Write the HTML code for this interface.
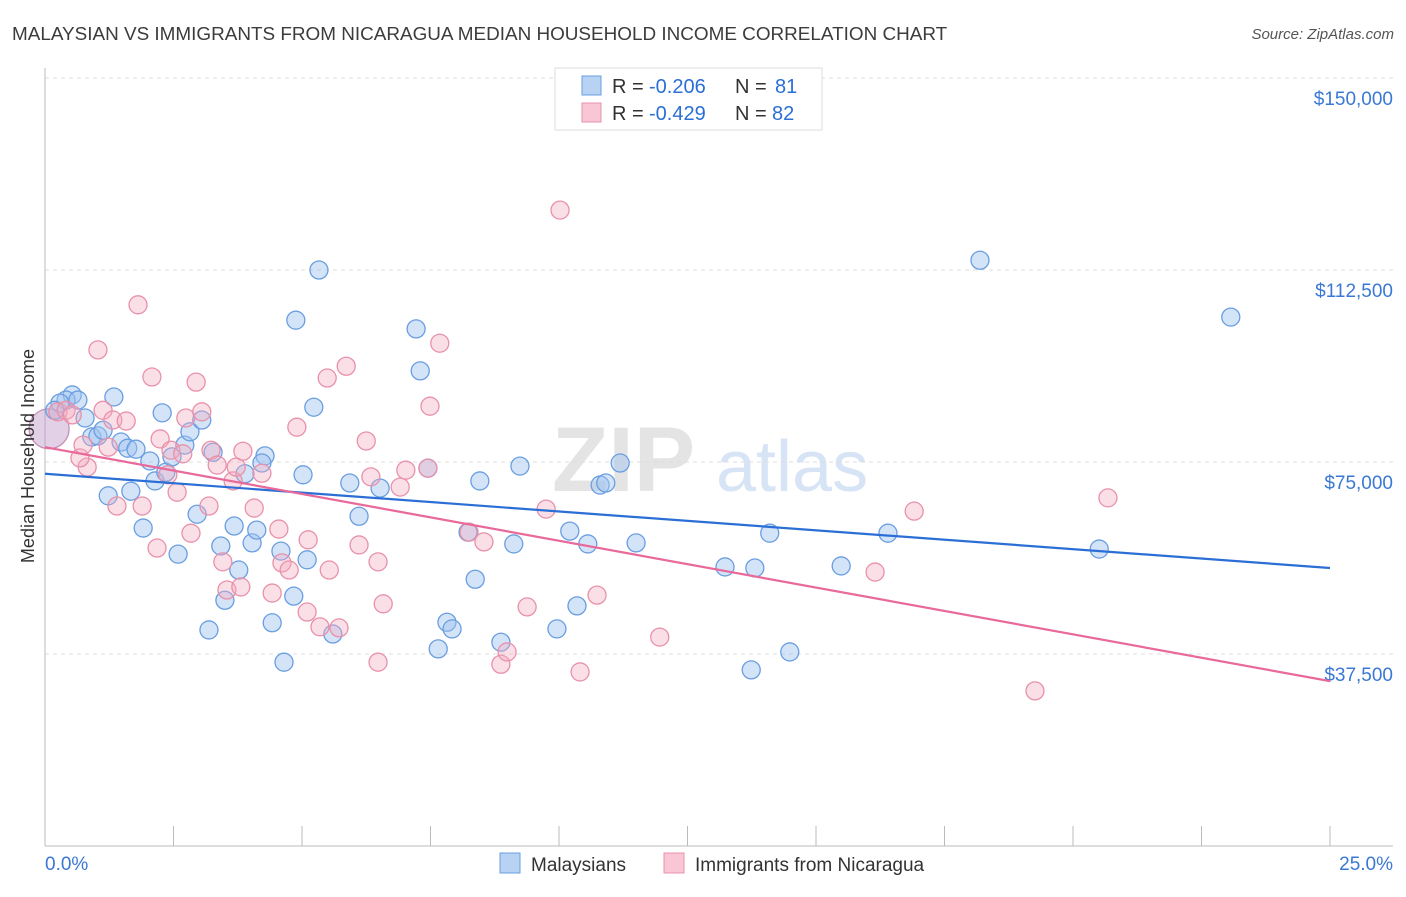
<!DOCTYPE html>
<html><head><meta charset="utf-8"><style>
body{margin:0;background:#fff;font-family:"Liberation Sans",sans-serif}
svg text{font-family:"Liberation Sans",sans-serif}
</style></head><body>
<svg id="chart" width="1406" height="892" viewBox="0 0 1406 892" xmlns="http://www.w3.org/2000/svg">
<text x="12" y="40" font-size="18.9" fill="#3c3c3c">MALAYSIAN VS IMMIGRANTS FROM NICARAGUA MEDIAN HOUSEHOLD INCOME CORRELATION CHART</text>
<text x="1394" y="39" font-size="15" fill="#555" text-anchor="end" font-style="italic">Source: ZipAtlas.com</text>
<g>
<text x="552" y="491" font-size="92" fill="#e4e4e4" font-family="Liberation Serif" font-weight="bold">ZIP</text>
<text x="716" y="491" font-size="72" fill="#d6e4f5">atlas</text>
</g>
<g id="grid"></g>
<g id="axes"></g>
<g id="pts"></g>
<g id="lines"></g>
<text transform="translate(34,456) rotate(-90)" font-size="18" fill="#333" text-anchor="middle">Median Household Income</text>
<g>
<rect x="555" y="68" width="267" height="62" fill="#fff" stroke="#ddd"/>
<rect x="582" y="76" width="19" height="19" fill="#b8d2f4" stroke="#6a9ee0"/>
<rect x="582" y="103" width="19" height="19" fill="#f9c6d5" stroke="#e891aa"/>
<text x="612" y="93" font-size="20" fill="#333">R =</text>
<text x="649" y="93" font-size="20" fill="#2b6fd6">-0.206</text>
<text x="735" y="93" font-size="20" fill="#333">N =</text>
<text x="775" y="93" font-size="20" fill="#2b6fd6">81</text>
<text x="612" y="120" font-size="20" fill="#333">R =</text>
<text x="649" y="120" font-size="20" fill="#2b6fd6">-0.429</text>
<text x="735" y="120" font-size="20" fill="#333">N =</text>
<text x="772" y="120" font-size="20" fill="#2b6fd6">82</text>
</g>
<g>
<rect x="500" y="853" width="20" height="20" fill="#b8d2f4" stroke="#6a9ee0"/>
<text x="531" y="871" font-size="19" fill="#333">Malaysians</text>
<rect x="664" y="853" width="20" height="20" fill="#f9c6d5" stroke="#e891aa"/>
<text x="695" y="871" font-size="19" fill="#333">Immigrants from Nicaragua</text>
</g>
</svg>
<script>
const yTicks=[37500,75000,112500,150000];
const yTickLabels=["$37,500","$75,000","$112,500","$150,000"];
const xEndLabels=["0.0%","25.0%"];
const blueX=[0.53,0.41,0.29,0.64,1.34,0.78,0.19,0.91,1.03,1.13,1.48,1.61,1.77,2.04,1.23,1.67,1.91,2.14,2.35,2.28,2.47,2.72,2.82,3.05,3.27,2.96,2.59,3.42,3.68,3.77,3.50,3.19,3.89,4.03,4.12,4.28,4.22,4.59,4.42,4.65,4.84,4.88,5.33,5.23,5.02,5.10,5.60,5.93,6.11,6.52,7.22,7.30,7.45,7.82,7.92,7.65,8.23,8.37,8.46,8.87,9.12,9.24,9.96,10.21,10.35,10.56,10.80,10.91,11.19,11.50,13.23,13.74,13.81,14.10,14.49,15.49,16.40,18.19,20.51,23.07];
const blueY=[88.1,87.1,86.5,87.1,87.7,83.6,85.1,79.9,80.1,81.2,78.9,77.7,77.5,75.2,68.4,69.3,62.1,71.3,73.0,84.6,76.0,78.3,80.9,83.2,76.9,64.8,57.0,58.6,62.5,53.9,48.0,42.2,72.7,59.2,61.7,76.2,74.8,57.6,43.6,35.9,48.8,102.7,112.5,85.7,72.5,55.9,41.4,70.9,64.4,69.9,101.0,92.8,73.8,43.7,42.4,38.5,61.3,52.1,71.3,39.8,59.0,74.2,42.4,61.5,46.9,59.0,70.5,70.9,74.8,59.2,54.5,34.4,54.3,61.1,37.9,54.7,61.1,114.4,58.0,103.3];
const pinkX=[0.25,0.41,0.53,0.82,0.68,0.74,1.03,1.13,1.23,1.40,1.32,1.58,1.81,1.89,2.08,2.18,2.24,2.39,2.45,2.57,2.68,2.74,2.84,2.94,3.05,3.19,3.23,3.35,3.46,3.54,3.66,3.72,3.85,3.81,4.07,4.22,4.42,4.55,4.61,4.75,4.90,5.10,5.12,5.35,5.53,5.72,5.49,5.86,6.11,6.25,6.34,6.48,6.48,6.58,6.91,7.02,7.45,7.49,7.68,8.25,8.54,8.87,8.99,9.38,9.75,10.02,10.41,10.74,11.96,16.15,16.91,19.26,20.68];
const pinkY=[84.8,85.1,84.2,74.0,75.8,78.3,96.9,85.1,77.9,66.4,83.2,83.0,105.7,66.4,91.6,58.2,79.5,72.5,77.3,69.1,76.6,83.6,61.1,90.6,84.8,66.4,77.3,74.4,55.5,50.0,71.3,74.0,77.1,50.6,66.0,72.8,49.4,61.9,55.3,53.9,81.8,45.7,59.8,42.8,53.9,42.6,91.4,93.7,58.8,79.1,72.1,55.5,35.9,47.3,70.1,73.4,73.8,85.9,98.2,61.3,59.4,35.5,37.9,46.7,65.8,124.2,34.0,49.0,40.8,53.5,65.4,30.3,68.0];
const bigX=[0.08];
const bigY=[81.5];
const blueTrend=[72.7,54.3];
const pinkTrend=[77.9,32.2];

const X0=45,X1=1330,YB=846;
function sx(p){return X0+(X1-X0)*p/25;}
function sy(v){return YB-v*192/37500;}
const NS="http://www.w3.org/2000/svg";
function mk(tag,attrs,parent){const e=document.createElementNS(NS,tag);for(const k in attrs)e.setAttribute(k,attrs[k]);parent.appendChild(e);return e;}
const grid=document.getElementById('grid'),axes=document.getElementById('axes'),pts=document.getElementById('pts'),lines=document.getElementById('lines');
yTicks.forEach((t,i)=>{
  const l=mk('line',{x1:45,x2:1393,y1:sy(t),y2:sy(t),stroke:'#ddd','stroke-dasharray':'4,4'},grid);
  
  
  const tx=mk('text',{x:1393,y:sy(t)+27,'font-size':19,fill:'#3a78d4','text-anchor':'end'},grid);
  tx.textContent=yTickLabels[i];
  
  
});
const ya=mk('line',{x1:45,x2:45,y1:68,y2:846,stroke:'#bbb'},axes);


const xa=mk('line',{x1:45,x2:1393,y1:846,y2:846,stroke:'#bbb'},axes);


for(let i=1;i<=10;i++){
  const t=mk('line',{x1:sx(i*2.5),x2:sx(i*2.5),y1:826,y2:846,stroke:'#bbb'},axes);
  
  
}
const xl0=mk('text',{x:45,y:870,'font-size':19,fill:'#3a78d4'},axes);
xl0.textContent=xEndLabels[0];


const xl1=mk('text',{x:1393,y:870,'font-size':19,fill:'#3a78d4','text-anchor':'end'},axes);
xl1.textContent=xEndLabels[1];


function dot(x,y,r,fill,stroke,name){
  const c=mk('circle',{cx:sx(x),cy:sy(y*1000),r:r,fill:fill,stroke:stroke,'stroke-width':1.3},pts);
  
  
}
bigX.forEach((x,i)=>{dot(x,bigY[i],20,'rgba(190,150,200,0.45)','#c590b8','big-overlap-point');});
blueX.forEach((x,i)=>dot(x,blueY[i],9,'rgba(160,196,240,0.45)','#6a9ee0','malaysian-point'));
pinkX.forEach((x,i)=>dot(x,pinkY[i],9,'rgba(245,170,192,0.38)','#e891aa','nicaragua-point'));
const bl=mk('line',{x1:sx(0),x2:sx(25),y1:sy(blueTrend[0]*1000),y2:sy(blueTrend[1]*1000),stroke:'#2b6fd6','stroke-width':2.2},lines);


const pl=mk('line',{x1:sx(0),x2:sx(25),y1:sy(pinkTrend[0]*1000),y2:sy(pinkTrend[1]*1000),stroke:'#e8699a','stroke-width':2.2},lines);


</script>
</body></html>
